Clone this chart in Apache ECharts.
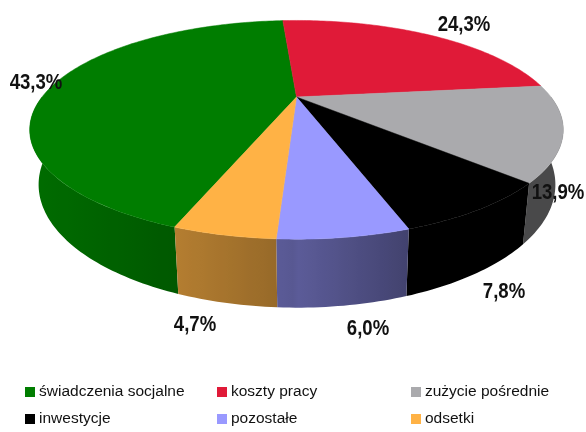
<!DOCTYPE html>
<html>
<head>
<meta charset="utf-8">
<style>html,body{margin:0;padding:0;background:#fff}#c{width:586px;height:432px}</style>
<script src="https://cdn.jsdelivr.net/npm/echarts@6/dist/echarts.min.js"></script>
</head>
<body>
<div id="c"></div>
<script>
// Data
const categories = ['świadczenia socjalne', 'koszty pracy', 'zużycie pośrednie', 'inwestycje', 'pozostałe', 'odsetki'];
const shares = [43.3, 24.3, 13.9, 7.8, 6.0, 4.7];

// Styles and layout
const colors = ['#007D00', '#E01A38', '#AAAAAD', '#000000', '#9999FF', '#FFB245'];
const labelCenters = [[36, 83], [464, 25], [558, 193], [504, 292], [368, 329], [195, 325]];
const legendColumns = [[0, 3, 25], [1, 4, 217], [2, 5, 411]];
const labelFont = 'bold 22px "Liberation Sans",sans-serif';
const legendFont = '"Liberation Sans",sans-serif';
const topRing = { cx: 296.5, cy: 97, a: 254.5, b: 99.5, k: 0.3 };
const bottomRing = { cx: 297, cy: 147, a: 246, b: 111.5, k: 0.306 };

const total = shares.reduce((s, v) => s + v, 0);
const firstStart = -4 - shares[0] / total * 360;
function sliceRange(i) {
  let s = firstStart;
  for (let j = 0; j < i; j++) s += shares[j] / total * 360;
  return [s, s + shares[i] / total * 360];
}
function ringPoint(ring, deg) {
  const t = deg * Math.PI / 180, u = Math.sin(t), v = Math.cos(t), s = 1 / (1 + ring.k * v);
  return [ring.cx + ring.a * u * s, ring.cy - ring.b * v * s];
}
function shade(hex, f) {
  const n = parseInt(hex.slice(1), 16);
  const c = [(n >> 16) & 255, (n >> 8) & 255, n & 255].map(x => Math.round(x * f));
  return 'rgb(' + c.join(',') + ')';
}
function wallFactor(x) {
  const w = (x - topRing.cx) / 267;
  return Math.max(0.43, w < 0 ? 0.57 - 0.3 * w : 0.6 - 0.4 * w);
}
function renderTop(i) {
  return function () {
    const [s, e] = sliceRange(i), pts = [[topRing.cx, topRing.cy]];
    const n = Math.max(2, Math.ceil(e - s));
    for (let j = 0; j <= n; j++) pts.push(ringPoint(topRing, s + (e - s) * j / n));
    return { type: 'polygon', shape: { points: pts }, style: { fill: colors[i], stroke: colors[i], lineWidth: 0.5 } };
  };
}
function renderWall(params) {
  const i = params.dataIndex;
  let [s, e] = sliceRange(i);
  // Only the front half of the wall can be seen; the rest lies behind the top face.
  const lo = e <= 0 ? -270 : 90, hi = e <= 0 ? -90 : 270;
  s = Math.max(s, lo); e = Math.min(e, hi);
  if (e <= s) return null;
  const top = [], bottom = [], xs = [];
  const n = Math.max(2, Math.ceil(e - s));
  for (let j = 0; j <= n; j++) {
    const d = s + (e - s) * j / n, p = ringPoint(topRing, d), q = ringPoint(bottomRing, d);
    top.push(p);
    bottom.unshift(q);
    xs.push(p[0], q[0]);
  }
  const x0 = Math.min.apply(null, xs), x1 = Math.max.apply(null, xs);
  const stops = [];
  for (let j = 0; j <= 24; j++) {
    const x = x0 + (x1 - x0) * j / 24;
    stops.push({ offset: j / 24, color: shade(colors[i], wallFactor(x)) });
  }
  const fill = new echarts.graphic.LinearGradient(x0, 0, x1, 0, stops, true);
  return { type: 'polygon', shape: { points: top.concat(bottom) }, style: { fill: fill } };
}
function renderLabel(params, api) {
  const i = params.dataIndex;
  return {
    type: 'text', x: labelCenters[i][0], y: labelCenters[i][1], scaleX: 0.845,
    style: {
      text: api.value(0).toFixed(1).replace('.', ',') + '%',
      font: labelFont, fill: '#111', align: 'center', verticalAlign: 'middle'
    }
  };
}

const series = [{
  type: 'custom', name: 'walls', coordinateSystem: 'none', silent: true, z: 1,
  data: shares.map(v => [v]), renderItem: renderWall
}];
categories.forEach((name, i) => series.push({
  type: 'custom', name: name, coordinateSystem: 'none', silent: true, z: 2,
  itemStyle: { color: colors[i] }, data: [[shares[i]]], renderItem: renderTop(i)
}));
series.push({
  type: 'custom', name: 'labels', coordinateSystem: 'none', silent: true, z: 3,
  data: shares.map(v => [v]), renderItem: renderLabel
});

const legend = legendColumns.map(([r1, r2, left]) => ({
  orient: 'vertical', left: left, top: 384, padding: 0, itemGap: 11,
  itemWidth: 10, itemHeight: 10, icon: 'rect', selectedMode: false,
  data: [categories[r1], categories[r2]],
  textStyle: { fontFamily: legendFont, fontSize: 15.5, color: '#111', padding: [0, 0, 0, -1] }
}));

const chart = echarts.init(document.getElementById('c'), null, { renderer: 'canvas' });
chart.setOption({ animation: false, backgroundColor: '#fff', legend: legend, series: series });
</script>
</body>
</html>
